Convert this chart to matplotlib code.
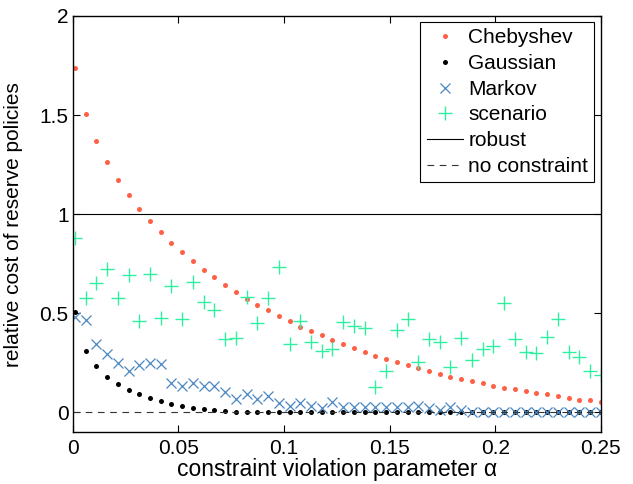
import numpy as np
import matplotlib
matplotlib.use('Agg')
import matplotlib.pyplot as plt

plt.rc('font', family='Liberation Sans', size=15)

# constraint violation parameter alpha (50 evaluated values)
alpha = np.linspace(0.001, 0.25, 50)

chebyshev = [1.738, 1.504, 1.367, 1.261, 1.172, 1.095, 1.026, 0.964, 0.908, 0.854,
             0.808, 0.762, 0.720, 0.682, 0.643, 0.609, 0.574, 0.544, 0.517, 0.487,
             0.460, 0.433, 0.413, 0.388, 0.366, 0.344, 0.326, 0.305, 0.287, 0.270,
             0.253, 0.238, 0.222, 0.208, 0.195, 0.181, 0.168, 0.156, 0.146, 0.134,
             0.124, 0.116, 0.106, 0.097, 0.091, 0.081, 0.074, 0.065, 0.060, 0.053]

gaussian = [0.504, 0.309, 0.232, 0.180, 0.143, 0.112, 0.091, 0.071, 0.055, 0.043,
            0.031, 0.021, 0.015, 0.010, 0.006, 0.004, 0.002, 0.001, 0.0, 0.0,
            0.0, 0.0, 0.0, 0.0, 0.0, 0.0, 0.0, 0.0, 0.0, 0.0,
            0.0, 0.0, 0.0, 0.0, 0.0, 0.0, 0.0, 0.0, 0.0, 0.0,
            0.0, 0.0, 0.0, 0.0, 0.0, 0.0, 0.0, 0.0, 0.0, 0.0]

markov = [0.482, 0.465, 0.344, 0.297, 0.250, 0.210, 0.238, 0.247, 0.243, 0.146,
          0.134, 0.147, 0.134, 0.134, 0.101, 0.068, 0.092, 0.070, 0.084, 0.048,
          0.032, 0.048, 0.033, 0.020, 0.050, 0.028, 0.028, 0.028, 0.028, 0.027,
          0.027, 0.028, 0.033, 0.020, 0.010, 0.028, 0.010, 0.0, 0.0, 0.0,
          0.0, 0.0, 0.0, 0.0, 0.0, 0.0, 0.0, 0.0, 0.0, 0.0]

scenario = [0.882, 0.579, 0.653, 0.722, 0.579, 0.692, 0.462, 0.697, 0.477, 0.640,
            0.472, 0.656, 0.559, 0.519, 0.369, 0.377, 0.580, 0.451, 0.576, 0.734,
            0.344, 0.461, 0.355, 0.310, 0.318, 0.455, 0.438, 0.428, 0.129, 0.210,
            0.415, 0.473, 0.255, 0.368, 0.355, 0.230, 0.373, 0.265, 0.320, 0.334,
            0.552, 0.372, 0.305, 0.300, 0.381, 0.470, 0.303, 0.280, 0.210, 0.188]

robust = 1.0
no_constraint = 0.0

fig = plt.figure(figsize=(6.33, 4.84), dpi=100)
ax = fig.add_axes([0.115, 0.107, 0.834, 0.86])

ax.plot(alpha, chebyshev, 'o', color='#ff5f45', markersize=3.6, markeredgewidth=0, label='Chebyshev')
ax.plot(alpha, gaussian, 'o', color='black', markersize=3.6, markeredgewidth=0, label='Gaussian')
ax.plot(alpha, markov, 'x', color='#4a88c2', markersize=7.5, markeredgewidth=0.9, label='Markov')
ax.plot(alpha, scenario, '+', color='#2ef0a0', markersize=10, markeredgewidth=1.0, label='scenario')
ax.axhline(robust, color='black', linewidth=0.8, label='robust')
ax.axhline(no_constraint, color='#333333', linewidth=0.8, linestyle=(0, (6, 5)), label='no constraint')

ax.set_xlim(0, 0.25)
ax.set_ylim(-0.1, 2)
ax.set_xticks([0, 0.05, 0.1, 0.15, 0.2, 0.25])
ax.set_xticklabels(['0', '0.05', '0.1', '0.15', '0.2', '0.25'])
ax.set_yticks([0, 0.5, 1, 1.5, 2])
ax.set_yticklabels(['0', '0.5', '1', '1.5', '2'])
ax.tick_params(direction='in', top=True, right=True, length=5, width=0.8, labelsize=15)
ax.tick_params(axis='x', pad=5)
ax.tick_params(axis='y', pad=3)
for s in ax.spines.values():
    s.set_linewidth(1.0)

ax.set_xlabel('constraint violation parameter α', fontsize=16.5)
ax.xaxis.set_label_coords(0.5, -0.062)
ax.set_ylabel('relative cost of reserve policies', fontsize=15)
ax.yaxis.set_label_coords(-0.095, 0.5)

leg = ax.legend(loc='upper right', fancybox=False, edgecolor='black', framealpha=1,
                handlelength=1.75, handletextpad=0.25, borderpad=0.3, labelspacing=0.32,
                borderaxespad=0.3, fontsize=15)
leg.get_frame().set_linewidth(0.8)

plt.savefig('out.png', dpi=100)
